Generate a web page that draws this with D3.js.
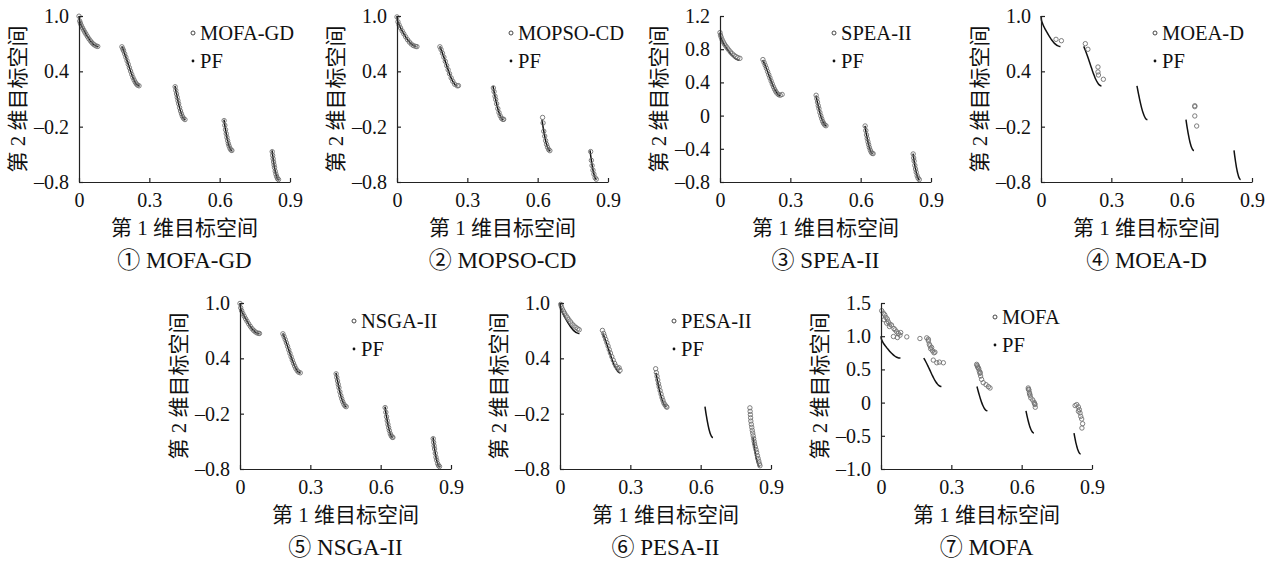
<!DOCTYPE html>
<html>
<head>
<meta charset="utf-8">
<script src="https://cdn.jsdelivr.net/npm/d3@7"></script>
<style>
  body { margin: 0; background: #fff; }
  svg { display: block; }
  svg text { font-family: "Liberation Serif", "Times New Roman", "Noto Sans CJK SC", serif; }
</style>
</head>
<body>
<svg id="canvas" width="1274" height="564"></svg>
<script>
// tick values
const f1Ticks = [0, 0.3, 0.6, 0.9];
const f2TicksA = [-0.8, -0.2, 0.4, 1.0];
const f2TicksB = [-0.8, -0.4, 0, 0.4, 0.8, 1.2];
const f2TicksC = [-1.0, -0.5, 0, 0.5, 1.0, 1.5];

// true pareto front, 5 pieces
const pfSegments = [
  [[0,1],[0.001,0.968],[0.003,0.945],[0.005,0.929],[0.01,0.897],[0.015,0.871],[0.02,0.847],[0.025,0.824],[0.03,0.803],[0.035,0.782],[0.04,0.762],[0.045,0.743],[0.05,0.726],[0.055,0.711],[0.06,0.698],[0.065,0.687],[0.07,0.679],[0.075,0.673],[0.08,0.670],[0.083,0.670]],
  [[0.1822,0.670],[0.185,0.654],[0.19,0.623],[0.195,0.589],[0.2,0.553],[0.205,0.515],[0.21,0.477],[0.215,0.439],[0.22,0.402],[0.225,0.367],[0.23,0.334],[0.235,0.306],[0.24,0.282],[0.245,0.263],[0.25,0.250],[0.255,0.243],[0.2578,0.242]],
  [[0.4093,0.242],[0.412,0.206],[0.415,0.167],[0.418,0.130],[0.42,0.105],[0.425,0.048],[0.43,-0.004],[0.435,-0.047],[0.44,-0.082],[0.445,-0.107],[0.45,-0.121],[0.452,-0.123],[0.4539,-0.124]],
  [[0.6184,-0.124],[0.621,-0.169],[0.625,-0.233],[0.6275,-0.269],[0.63,-0.303],[0.6325,-0.335],[0.635,-0.363],[0.6375,-0.387],[0.64,-0.409],[0.6425,-0.426],[0.645,-0.440],[0.6475,-0.450],[0.65,-0.456],[0.6525,-0.458]],
  [[0.8233,-0.458],[0.826,-0.511],[0.8275,-0.539],[0.83,-0.583],[0.8325,-0.622],[0.835,-0.658],[0.8375,-0.689],[0.84,-0.715],[0.8425,-0.737],[0.845,-0.754],[0.8475,-0.766],[0.85,-0.772],[0.8518,-0.773]]
];

// solutions found by each algorithm
const mofaGD = [
  [0,0.998],[0.003,0.945],[0.006,0.922],[0.01,0.897],[0.015,0.871],[0.02,0.847],[0.025,0.824],[0.03,0.803],[0.036,0.778],[0.042,0.754],[0.048,0.733],[0.054,0.714],[0.06,0.698],[0.066,0.686],[0.073,0.675],[0.08,0.670],
  [0.183,0.666],[0.187,0.642],[0.19,0.623],[0.195,0.589],[0.2,0.553],[0.205,0.515],[0.21,0.477],[0.215,0.439],[0.22,0.402],[0.225,0.367],[0.23,0.334],[0.235,0.306],[0.24,0.282],[0.245,0.263],[0.25,0.250],[0.256,0.243],
  [0.41,0.233],[0.413,0.193],[0.416,0.155],[0.419,0.118],[0.422,0.082],[0.425,0.048],[0.429,0.006],[0.433,-0.030],[0.437,-0.061],[0.441,-0.088],[0.446,-0.110],[0.452,-0.123],
  [0.619,-0.134],[0.622,-0.185],[0.625,-0.233],[0.628,-0.276],[0.631,-0.316],[0.634,-0.352],[0.637,-0.383],[0.64,-0.409],[0.644,-0.435],[0.648,-0.452],[0.652,-0.458],
  [0.824,-0.471],[0.826,-0.511],[0.828,-0.548],[0.83,-0.583],[0.832,-0.615],[0.834,-0.644],[0.837,-0.683],[0.84,-0.715],[0.843,-0.741],[0.847,-0.764],[0.851,-0.773]
];
const mopsoCD = [
  [0,0.99],[0.004,0.937],[0.009,0.903],[0.015,0.871],[0.022,0.838],[0.029,0.807],[0.037,0.774],[0.045,0.743],[0.053,0.717],[0.061,0.696],[0.07,0.679],[0.079,0.671],[0.085,0.668],
  [0.183,0.666],[0.188,0.636],[0.194,0.596],[0.2,0.553],[0.206,0.508],[0.212,0.462],[0.218,0.417],[0.224,0.374],[0.231,0.329],[0.238,0.292],[0.246,0.260],[0.257,0.243],[0.262,0.245],
  [0.411,0.22],[0.414,0.18],[0.418,0.13],[0.421,0.094],[0.425,0.048],[0.43,-0.004],[0.435,-0.047],[0.44,-0.082],[0.446,-0.11],[0.452,-0.122],[0.455,-0.12],
  [0.621,-0.10],[0.623,-0.16],[0.626,-0.25],[0.63,-0.303],[0.634,-0.352],[0.638,-0.392],[0.642,-0.423],[0.647,-0.449],[0.652,-0.46],
  [0.826,-0.47],[0.829,-0.565],[0.832,-0.622],[0.836,-0.672],[0.84,-0.715],[0.845,-0.754],[0.85,-0.77]
];
const speaII = [
  [0,1.0],[0.002,0.97],[0.005,0.945],[0.009,0.915],[0.014,0.888],[0.019,0.862],[0.025,0.838],[0.031,0.815],[0.038,0.79],[0.045,0.766],[0.052,0.746],[0.06,0.727],[0.068,0.711],[0.076,0.699],[0.085,0.69],
  [0.183,0.675],[0.188,0.64],[0.193,0.605],[0.198,0.57],[0.203,0.531],[0.208,0.493],[0.213,0.455],[0.218,0.417],[0.223,0.381],[0.228,0.347],[0.233,0.317],[0.238,0.291],[0.243,0.27],[0.25,0.252],[0.257,0.245],[0.265,0.255],
  [0.41,0.245],[0.413,0.205],[0.416,0.162],[0.419,0.12],[0.422,0.084],[0.426,0.038],[0.43,-0.002],[0.434,-0.038],[0.438,-0.07],[0.442,-0.094],[0.447,-0.113],[0.452,-0.122],
  [0.619,-0.125],[0.622,-0.18],[0.625,-0.232],[0.628,-0.276],[0.631,-0.315],[0.634,-0.35],[0.637,-0.383],[0.641,-0.416],[0.645,-0.44],[0.649,-0.455],[0.653,-0.458],
  [0.824,-0.462],[0.826,-0.51],[0.828,-0.548],[0.831,-0.6],[0.834,-0.644],[0.837,-0.683],[0.841,-0.725],[0.845,-0.754],[0.85,-0.771]
];
const moeaD = [
  [0.064,0.747],[0.087,0.732],[0.189,0.70],[0.2,0.639],[0.243,0.447],[0.243,0.393],[0.245,0.36],[0.266,0.314],
  [0.656,0.017],[0.656,0.027],[0.656,-0.084],[0.664,-0.193]
];
const nsgaII = [
  [0,0.995],[0.003,0.948],[0.007,0.916],[0.012,0.886],[0.018,0.857],[0.024,0.829],[0.03,0.803],[0.037,0.774],[0.044,0.747],[0.051,0.723],[0.058,0.703],[0.065,0.688],[0.072,0.676],[0.079,0.671],[0.083,0.67],
  [0.183,0.666],[0.188,0.636],[0.193,0.603],[0.198,0.568],[0.203,0.53],[0.208,0.492],[0.213,0.454],[0.218,0.417],[0.223,0.381],[0.228,0.347],[0.233,0.317],[0.238,0.29],[0.244,0.266],[0.25,0.25],[0.257,0.243],
  [0.41,0.232],[0.413,0.193],[0.416,0.155],[0.419,0.118],[0.422,0.082],[0.426,0.037],[0.43,-0.004],[0.434,-0.038],[0.438,-0.069],[0.443,-0.097],[0.448,-0.116],[0.453,-0.124],
  [0.619,-0.134],[0.622,-0.185],[0.625,-0.233],[0.628,-0.276],[0.631,-0.316],[0.634,-0.352],[0.637,-0.383],[0.641,-0.417],[0.645,-0.44],[0.649,-0.454],[0.652,-0.458],
  [0.824,-0.471],[0.826,-0.511],[0.828,-0.548],[0.83,-0.583],[0.833,-0.629],[0.836,-0.672],[0.839,-0.705],[0.843,-0.741],[0.847,-0.764],[0.851,-0.773]
];
const pesaII = [
  [0.003,0.985],[0.006,0.96],[0.01,0.935],[0.015,0.91],[0.02,0.887],[0.026,0.862],[0.032,0.84],[0.038,0.818],[0.045,0.795],[0.052,0.772],[0.06,0.752],[0.068,0.735],[0.076,0.72],[0.082,0.71],
  [0.181,0.703],[0.186,0.67],[0.19,0.64],[0.195,0.605],[0.2,0.57],[0.205,0.533],[0.21,0.495],[0.215,0.458],[0.221,0.418],[0.227,0.38],[0.233,0.345],[0.239,0.315],[0.246,0.29],[0.252,0.298],[0.256,0.27],
  [0.408,0.287],[0.411,0.245],[0.414,0.205],[0.417,0.165],[0.42,0.125],[0.423,0.09],[0.427,0.05],[0.431,0.012],[0.435,-0.025],[0.439,-0.055],[0.443,-0.085],[0.448,-0.105],[0.453,-0.122],[0.456,-0.13],
  [0.81,-0.137],[0.811,-0.175],[0.812,-0.21],[0.813,-0.245],[0.814,-0.28],[0.816,-0.315],[0.818,-0.348],[0.82,-0.38],[0.822,-0.41],[0.824,-0.44],[0.826,-0.47],[0.828,-0.5],[0.83,-0.53],[0.833,-0.56],[0.836,-0.59],[0.839,-0.62],[0.842,-0.655],[0.845,-0.685],[0.848,-0.715],[0.851,-0.745],[0.853,-0.765]
];
const mofa = [
  [0.003,1.384],[0.01,1.348],[0.016,1.323],[0.021,1.283],[0.027,1.258],[0.013,1.248],[0.031,1.217],[0.038,1.182],[0.024,1.197],[0.036,1.146],[0.045,1.167],[0.055,1.116],[0.06,1.096],[0.067,1.066],[0.074,1.04],[0.053,0.995],[0.07,0.98],[0.081,1.015],[0.084,1.055],[0.11,0.99],
  [0.166,0.965],[0.195,0.975],[0.202,0.955],[0.202,0.93],[0.206,0.88],[0.209,0.855],[0.212,0.81],[0.216,0.83],[0.22,0.78],[0.226,0.75],[0.23,0.76],[0.223,0.64],[0.238,0.60],[0.249,0.61],[0.266,0.60],
  [0.408,0.576],[0.41,0.56],[0.412,0.54],[0.414,0.525],[0.417,0.51],[0.419,0.475],[0.422,0.44],[0.423,0.455],[0.425,0.40],[0.429,0.35],[0.436,0.30],[0.448,0.27],[0.458,0.24],[0.465,0.22],
  [0.628,0.22],[0.629,0.20],[0.631,0.19],[0.633,0.15],[0.634,0.13],[0.636,0.11],[0.639,0.07],[0.647,0.04],[0.653,0.005],[0.657,-0.03],[0.658,-0.07],[0.655,-0.015],
  [0.828,-0.045],[0.835,-0.03],[0.842,-0.065],[0.846,-0.106],[0.842,-0.13],[0.849,-0.156],[0.852,-0.207],[0.856,-0.247],[0.86,-0.318],[0.857,-0.383]
];

const xTitle = '第 1 维目标空间';
const yTitle = '第 2 维目标空间';

// layout of the 7 small plots
const W = 211, H = 166;
const panels = [
  { name: 'MOFA-GD',  num: '①', pts: mofaGD,  yTicks: f2TicksA, left: 79,   top: 16,  legY: 17 },
  { name: 'MOPSO-CD', num: '②', pts: mopsoCD, yTicks: f2TicksA, left: 397,  top: 16,  legY: 17 },
  { name: 'SPEA-II',  num: '③', pts: speaII,  yTicks: f2TicksB, left: 720,  top: 16,  legY: 17 },
  { name: 'MOEA-D',   num: '④', pts: moeaD,   yTicks: f2TicksA, left: 1041, top: 16,  legY: 17 },
  { name: 'NSGA-II',  num: '⑤', pts: nsgaII,  yTicks: f2TicksA, left: 240,  top: 303, legY: 18 },
  { name: 'PESA-II',  num: '⑥', pts: pesaII,  yTicks: f2TicksA, left: 560,  top: 303, legY: 18 },
  { name: 'MOFA',     num: '⑦', pts: mofa,    yTicks: f2TicksC, left: 881,  top: 303, legY: 14 }
];

const fmt = v => v === 0 ? '0' : d3.format('.1f')(v).replace('\u2212', '\u2013');
const canvas = d3.select('#canvas');

panels.forEach(p => {
  let x = d3.scaleLinear().domain([0, 0.9]).range([0, W]);
  let y = d3.scaleLinear().domain(d3.extent(p.yTicks)).range([H, 0]);

  let g = canvas.append('g').attr('transform', 'translate(' + p.left + ',' + p.top + ')');

  let line = d3.line()
      .x(d => x(d[0]))
      .y(d => y(d[1]))
      .curve(d3.curveMonotoneX);

  g.selectAll('path.pf')
    .data(pfSegments)
    .enter()
    .append('path')
    .attr('class', 'pf')
    .attr('d', line)
    .attr('fill', 'none')
    .attr('stroke', '#111')
    .attr('stroke-width', 1.5);

  g.selectAll('circle.sol')
    .data(p.pts)
    .enter()
    .append('circle')
    .attr('class', 'sol')
    .attr('cx', d => x(d[0]))
    .attr('cy', d => y(d[1]))
    .attr('r', 2.2)
    .attr('fill', 'none')
    .attr('stroke', '#707070')
    .attr('stroke-width', 0.9);

  let xAxis = d3.axisBottom(x).tickValues(f1Ticks).tickFormat(fmt)
      .tickSizeInner(-4).tickSizeOuter(0).tickPadding(11);
  let yAxis = d3.axisLeft(y).tickValues(p.yTicks).tickFormat(fmt)
      .tickSizeInner(-4).tickSizeOuter(0).tickPadding(10);

  let gx = g.append('g').attr('transform', 'translate(0,' + H + ')').call(xAxis);
  let gy = g.append('g').call(yAxis);
  [gx, gy].forEach(a => {
    a.attr('font-family', null).attr('font-size', 20);
    a.selectAll('path, line').attr('stroke', '#222').attr('stroke-width', 1.2);
    a.selectAll('text').attr('fill', '#111');
  });

  // legend
  let lx = 114;
  g.append('circle').attr('cx', lx).attr('cy', p.legY).attr('r', 2)
    .attr('fill', 'none').attr('stroke', '#333').attr('stroke-width', 0.9);
  g.append('text').attr('x', lx + 7).attr('y', p.legY + 7)
    .attr('font-size', 20.5).attr('fill', '#111').text(p.name);
  g.append('circle').attr('cx', lx).attr('cy', p.legY + 28).attr('r', 1.4).attr('fill', '#111');
  g.append('text').attr('x', lx + 7).attr('y', p.legY + 35)
    .attr('font-size', 20.5).attr('fill', '#111').text('PF');

  // axis titles
  g.append('text').attr('x', W / 2).attr('y', H + 53)
    .attr('text-anchor', 'middle').attr('font-size', 21).attr('fill', '#111')
    .text(xTitle);
  g.append('text')
    .attr('transform', 'translate(-62,' + (H / 2) + ') rotate(-90)')
    .attr('dy', '0.38em')
    .attr('text-anchor', 'middle').attr('font-size', 21).attr('fill', '#111')
    .text(yTitle);
  g.append('text').attr('x', W / 2).attr('y', H + 86)
    .attr('text-anchor', 'middle').attr('font-size', 23).attr('fill', '#111')
    .text(p.num + ' ' + p.name);
});
</script>
</body>
</html>
